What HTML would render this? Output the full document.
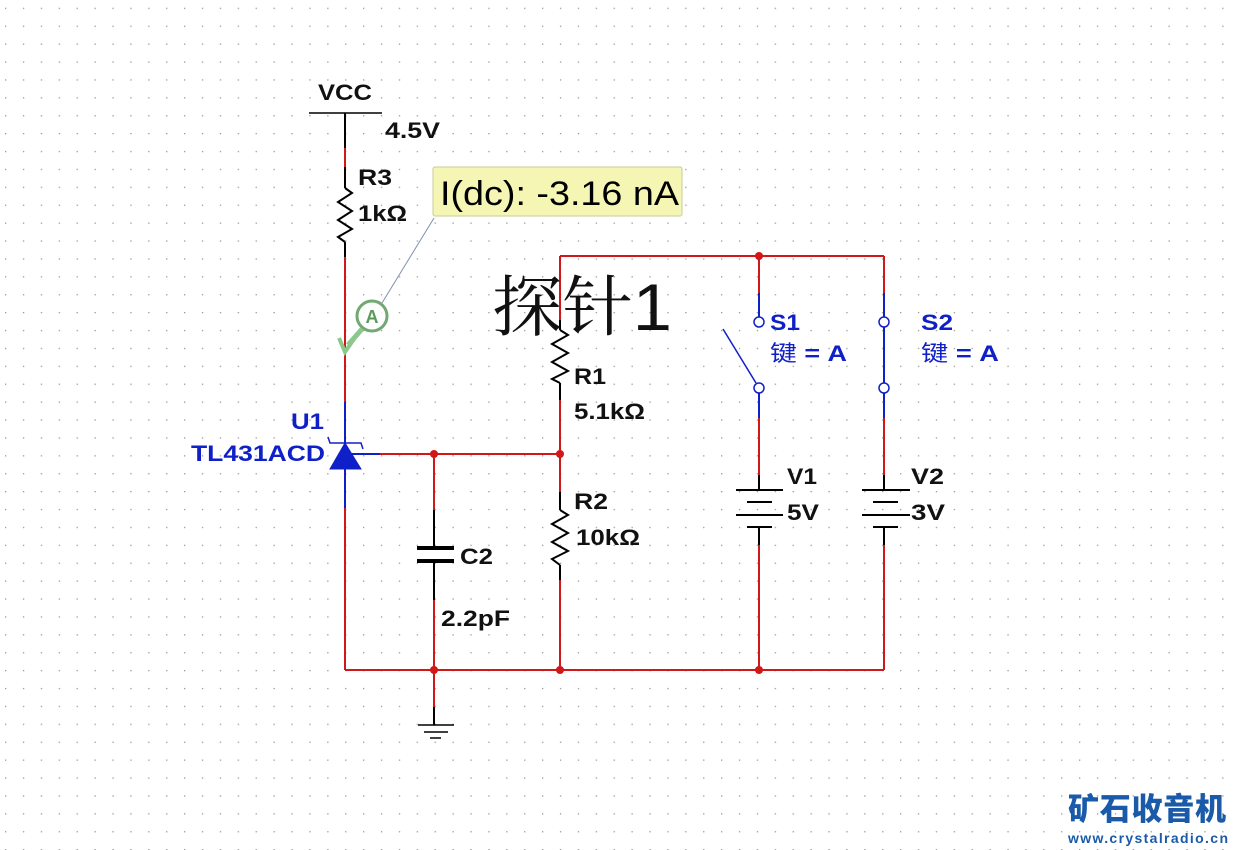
<!DOCTYPE html>
<html><head><meta charset="utf-8"><style>
html,body{margin:0;padding:0;background:#fff;}
svg{display:block;}
text{font-family:"Liberation Sans","Noto Sans CJK SC",sans-serif;font-weight:bold;}
</style></head><body>
<svg width="1236" height="850" viewBox="0 0 1236 850" xmlns="http://www.w3.org/2000/svg">
<defs>
<pattern id="g" x="5" y="7.7" width="17.9" height="17.9" patternUnits="userSpaceOnUse">
<rect x="0" y="0" width="1.3" height="1.3" fill="#9a9a9a"/>
</pattern>
</defs>
<rect width="1236" height="850" fill="#fff"/>
<rect width="1236" height="850" fill="url(#g)"/>

<g fill="none" stroke-width="2">
<line x1="309" y1="113" x2="382" y2="113" stroke="#000" stroke-width="1.5"/>
<line x1="345" y1="113" x2="345" y2="148" stroke="#000"/>
<line x1="345" y1="148" x2="345" y2="167" stroke="#d01818"/>
<line x1="345" y1="167" x2="345" y2="188" stroke="#000"/>
<polyline points="345,188 352,193 338,202 352,211 338,220 352,229 338,237 345,242" stroke="#000"/>
<line x1="345" y1="242" x2="345" y2="257" stroke="#000"/>
<line x1="345" y1="257" x2="345" y2="402" stroke="#d01818"/>
<line x1="345" y1="402" x2="345" y2="508" stroke="#1020c8"/>
<line x1="345" y1="508" x2="345" y2="670" stroke="#d01818"/>
<polygon points="345,443 330,469 361,469" fill="#1020c8" stroke="#1020c8" stroke-width="1"/>
<polyline points="328,437 330,443 361,443 363,449" stroke="#1020c8" stroke-width="1.5"/>
<line x1="345" y1="454" x2="380" y2="454" stroke="#1020c8"/>
<line x1="380" y1="454" x2="560" y2="454" stroke="#d01818"/>
<line x1="434" y1="454" x2="434" y2="510" stroke="#d01818"/>
<line x1="434" y1="510" x2="434" y2="548" stroke="#000"/>
<line x1="417" y1="548" x2="454" y2="548" stroke="#000" stroke-width="4"/>
<line x1="417" y1="561" x2="454" y2="561" stroke="#000" stroke-width="4"/>
<line x1="434" y1="561" x2="434" y2="600" stroke="#000"/>
<line x1="434" y1="600" x2="434" y2="707" stroke="#d01818"/>
<line x1="434" y1="707" x2="434" y2="725" stroke="#000"/>
<line x1="418" y1="725" x2="454" y2="725" stroke="#000" stroke-width="1.5"/>
<line x1="424" y1="732" x2="448" y2="732" stroke="#000" stroke-width="1.5"/>
<line x1="430" y1="738" x2="441" y2="738" stroke="#000" stroke-width="1.5"/>
<line x1="560" y1="256" x2="884" y2="256" stroke="#d01818"/>
<line x1="560" y1="256" x2="560" y2="320" stroke="#d01818"/>
<line x1="560" y1="320" x2="560" y2="330" stroke="#000"/>
<polyline points="560,330 568,335 552,344 568,353 552,362 568,371 552,379 560,383" stroke="#000"/>
<line x1="560" y1="383" x2="560" y2="400" stroke="#000"/>
<line x1="560" y1="400" x2="560" y2="492" stroke="#d01818"/>
<line x1="560" y1="492" x2="560" y2="510" stroke="#000"/>
<polyline points="560,510 568,515 552,524 568,533 552,542 568,551 552,559 560,565" stroke="#000"/>
<line x1="560" y1="565" x2="560" y2="580" stroke="#000"/>
<line x1="560" y1="580" x2="560" y2="670" stroke="#d01818"/>
<line x1="345" y1="670" x2="884" y2="670" stroke="#d01818"/>
<line x1="759" y1="256" x2="759" y2="293" stroke="#d01818"/>
<line x1="759" y1="293" x2="759" y2="317" stroke="#1020c8"/>
<circle cx="759" cy="322" r="5" stroke="#1020c8" stroke-width="1.5" fill="#fff"/>
<line x1="723" y1="329" x2="756" y2="383" stroke="#1020c8" stroke-width="1.5"/>
<circle cx="759" cy="388" r="5" stroke="#1020c8" stroke-width="1.5" fill="#fff"/>
<line x1="759" y1="393" x2="759" y2="418" stroke="#1020c8"/>
<line x1="759" y1="418" x2="759" y2="475" stroke="#d01818"/>
<line x1="759" y1="475" x2="759" y2="490" stroke="#000"/>
<line x1="736" y1="490" x2="783" y2="490" stroke="#000"/>
<line x1="747" y1="502" x2="772" y2="502" stroke="#000"/>
<line x1="736" y1="515" x2="783" y2="515" stroke="#000"/>
<line x1="747" y1="527" x2="772" y2="527" stroke="#000"/>
<line x1="759" y1="527" x2="759" y2="545" stroke="#000"/>
<line x1="759" y1="545" x2="759" y2="670" stroke="#d01818"/>
<line x1="884" y1="256" x2="884" y2="293" stroke="#d01818"/>
<line x1="884" y1="293" x2="884" y2="418" stroke="#1020c8"/>
<circle cx="884" cy="322" r="5" stroke="#1020c8" stroke-width="1.5" fill="#fff"/>
<circle cx="884" cy="388" r="5" stroke="#1020c8" stroke-width="1.5" fill="#fff"/>
<line x1="884" y1="418" x2="884" y2="475" stroke="#d01818"/>
<line x1="884" y1="475" x2="884" y2="490" stroke="#000"/>
<line x1="862" y1="490" x2="910" y2="490" stroke="#000"/>
<line x1="873" y1="502" x2="898" y2="502" stroke="#000"/>
<line x1="862" y1="515" x2="910" y2="515" stroke="#000"/>
<line x1="873" y1="527" x2="898" y2="527" stroke="#000"/>
<line x1="884" y1="527" x2="884" y2="545" stroke="#000"/>
<line x1="884" y1="545" x2="884" y2="670" stroke="#d01818"/>
</g>
<g fill="#d01818">
<circle cx="434" cy="454" r="4"/><circle cx="560" cy="454" r="4"/>
<circle cx="434" cy="670" r="4"/><circle cx="560" cy="670" r="4"/>
<circle cx="759" cy="256" r="4"/><circle cx="759" cy="670" r="4"/>
</g>
<line x1="434" y1="218" x2="382" y2="303" stroke="#8090b0" stroke-width="1"/>
<circle cx="372" cy="316" r="15" fill="#fff" stroke="#5a9a5a" stroke-width="3" opacity="0.85"/>
<text x="372" y="323" font-size="18" fill="#5a9a5a" text-anchor="middle">A</text>
<line x1="362" y1="329" x2="348" y2="345" stroke="#8cc88c" stroke-width="5"/>
<polyline points="339,338 345,352 354,339" fill="none" stroke="#8cc88c" stroke-width="4"/>
<rect x="433" y="167" width="249" height="49" rx="2" fill="#f6f6b4" stroke="#c8cc98" stroke-width="1"/>
<text x="440" y="205" font-size="34" fill="#000" textLength="239" lengthAdjust="spacingAndGlyphs" style="font-weight:normal">I(dc): -3.16 nA</text>
<g font-size="22" fill="#111">
<text x="318" y="100" textLength="54" lengthAdjust="spacingAndGlyphs">VCC</text>
<text x="385" y="138" textLength="55" lengthAdjust="spacingAndGlyphs">4.5V</text>
<text x="358" y="185" textLength="34" lengthAdjust="spacingAndGlyphs">R3</text>
<text x="358" y="221" textLength="49" lengthAdjust="spacingAndGlyphs">1kΩ</text>
<text x="574" y="384" textLength="32" lengthAdjust="spacingAndGlyphs">R1</text>
<text x="574" y="419" textLength="71" lengthAdjust="spacingAndGlyphs">5.1kΩ</text>
<text x="574" y="509" textLength="34" lengthAdjust="spacingAndGlyphs">R2</text>
<text x="576" y="545" textLength="64" lengthAdjust="spacingAndGlyphs">10kΩ</text>
<text x="460" y="564" textLength="33" lengthAdjust="spacingAndGlyphs">C2</text>
<text x="441" y="626" textLength="69" lengthAdjust="spacingAndGlyphs">2.2pF</text>
<text x="787" y="484" textLength="30" lengthAdjust="spacingAndGlyphs">V1</text>
<text x="787" y="520" textLength="32" lengthAdjust="spacingAndGlyphs">5V</text>
<text x="911" y="484" textLength="33" lengthAdjust="spacingAndGlyphs">V2</text>
<text x="911" y="520" textLength="34" lengthAdjust="spacingAndGlyphs">3V</text>
</g>
<g font-size="22" fill="#1020c8">
<text x="291" y="429" textLength="33" lengthAdjust="spacingAndGlyphs">U1</text>
<text x="191" y="461" textLength="134" lengthAdjust="spacingAndGlyphs">TL431ACD</text>
<text x="770" y="330" textLength="30" lengthAdjust="spacingAndGlyphs">S1</text>
<text x="770" y="361" textLength="77" lengthAdjust="spacingAndGlyphs"><tspan style="font-weight:normal">键</tspan> = A</text>
<text x="921" y="330" textLength="32" lengthAdjust="spacingAndGlyphs">S2</text>
<text x="921" y="361" textLength="78" lengthAdjust="spacingAndGlyphs"><tspan style="font-weight:normal">键</tspan> = A</text>
</g>
<text x="492" y="330" font-size="66" fill="#111" textLength="180" lengthAdjust="spacingAndGlyphs" style="font-family:'Noto Serif CJK SC','Liberation Serif',serif;font-weight:normal">探针<tspan style="font-family:'Liberation Sans',sans-serif">1</tspan></text>
<text x="1068" y="820" font-size="31" fill="#1a5aa8" textLength="158" style="font-weight:900">矿石收音机</text>
<text x="1068" y="843" font-size="14" fill="#1a5aa8" textLength="160">www.crystalradio.cn</text>
</svg>
</body></html>
